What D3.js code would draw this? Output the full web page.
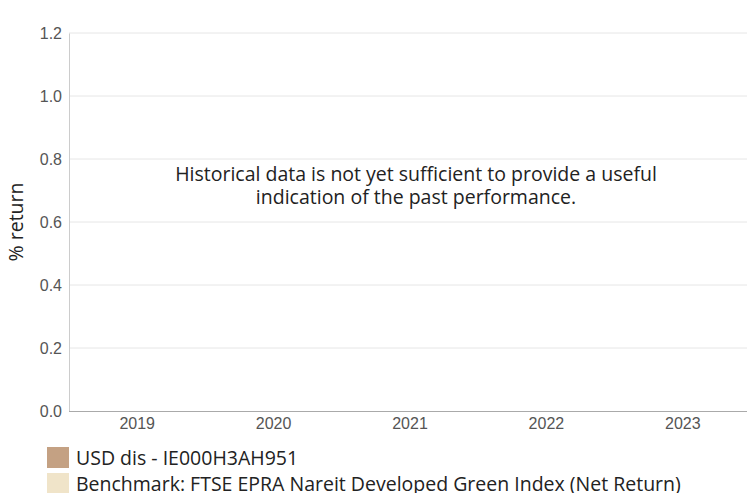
<!DOCTYPE html>
<html>
<head>
<meta charset="utf-8">
<script src="https://cdn.jsdelivr.net/npm/d3@7"></script>
<style>
  body { margin: 0; background: #fff; }
  svg { display: block; }
</style>
</head>
<body>
<div id="chart"></div>
<script>
"use strict";

// categories and ticks
const years = ["2019", "2020", "2021", "2022", "2023"];
const yTicks = [0, 0.2, 0.4, 0.6, 0.8, 1.0, 1.2];
// series (no values yet - not enough history)
const seriesNames = ["USD dis - IE000H3AH951", "Benchmark: FTSE EPRA Nareit Developed Green Index (Net Return)"];
const seriesColors = ["#c4a183", "#f0e4c9"];
const message = ["Historical data is not yet sufficient to provide a useful", "indication of the past performance."];

const W = 747, H = 493;
const margins = {top: 33, right: -4, bottom: 82, left: 69};
const width = W - margins.left - margins.right;
const height = H - margins.top - margins.bottom;

const svg = d3.select("#chart").append("svg")
  .attr("width", W).attr("height", H);
const g = svg.append("g")
  .attr("transform", `translate(${margins.left},${margins.top})`);

let xScale = d3.scaleBand().domain(years).range([0, width]);
let yScale = d3.scaleLinear().domain([0, 1.2]).range([height, 0]);

// Y gridlines
g.append("g")
  .selectAll("line").data(yTicks.filter(d => d > 0))
  .join("line")
  .attr("x1", 0).attr("x2", W - margins.left)
  .attr("y1", d => yScale(d)).attr("y2", d => yScale(d))
  .attr("stroke", "#e6e6e6");

// Y axis
let yAxis = d3.axisLeft(yScale).tickValues(yTicks).tickFormat(d3.format(".1f")).tickSize(0).tickPadding(7);
g.append("g").call(yAxis)
  .call(a => a.select(".domain").attr("stroke", "#cccccc"))
  .selectAll("text")
  .attr("font-family", "Liberation Sans, Arial, sans-serif")
  .attr("font-size", 16).attr("fill", "#555");

// X axis
let xAxis = d3.axisBottom(xScale).tickSize(0).tickPadding(7);
g.append("g").attr("transform", `translate(0,${height})`).call(xAxis)
  .call(a => a.select(".domain").remove())
  .selectAll("text")
  .attr("font-family", "Liberation Sans, Arial, sans-serif")
  .attr("font-size", 16).attr("fill", "#555");
g.append("line")
  .attr("x1", 0).attr("x2", W - margins.left)
  .attr("y1", height + 0.5).attr("y2", height + 0.5)
  .attr("stroke", "#aaaaaa");

// axis label
svg.append("text")
  .attr("transform", `translate(23,${margins.top + height / 2}) rotate(-90)`)
  .attr("text-anchor", "middle")
  .attr("font-family", "Open Sans, sans-serif")
  .attr("font-size", 19.5).attr("fill", "#222")
  .text("% return");

// no-data message
svg.append("g").selectAll("text").data(message)
  .join("text")
  .attr("x", 416).attr("y", (d, i) => 181 + i * 23)
  .attr("text-anchor", "middle")
  .attr("font-family", "Open Sans, sans-serif")
  .attr("font-size", 19.5).attr("fill", "#222")
  .text(d => d);

// legend
let legend = svg.append("g").selectAll("g").data(seriesNames)
  .join("g")
  .attr("transform", (d, i) => `translate(47,${447 + i * 26})`);
legend.append("rect")
  .attr("width", 22).attr("height", 21)
  .attr("fill", (d, i) => seriesColors[i]);
legend.append("text")
  .attr("x", 29).attr("y", 18)
  .attr("font-family", "Open Sans, sans-serif")
  .attr("font-size", 19.5).attr("fill", "#222")
  .text(d => d);
</script>
</body>
</html>
